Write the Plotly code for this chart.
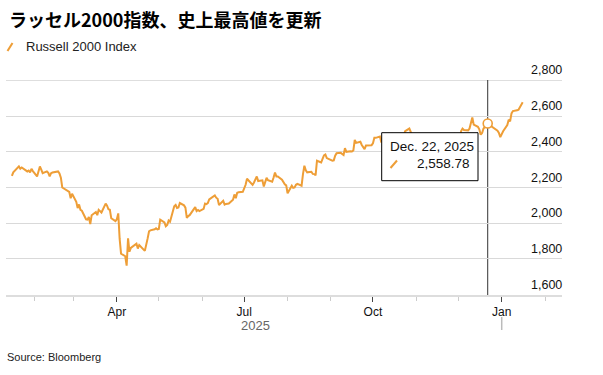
import plotly.graph_objects as go

# ---------------- data ----------------
dates = [
    # Jan 2025
    "2025-01-16", "2025-01-17", "2025-01-21", "2025-01-22", "2025-01-23", "2025-01-24",
    "2025-01-27", "2025-01-28", "2025-01-29", "2025-01-30", "2025-01-31",
    # Feb
    "2025-02-03", "2025-02-04", "2025-02-05", "2025-02-06", "2025-02-07", "2025-02-10",
    "2025-02-11", "2025-02-12", "2025-02-13", "2025-02-14", "2025-02-18", "2025-02-19",
    "2025-02-20", "2025-02-21", "2025-02-24", "2025-02-25", "2025-02-26", "2025-02-27",
    "2025-02-28",
    # Mar
    "2025-03-03", "2025-03-04", "2025-03-05", "2025-03-06", "2025-03-07", "2025-03-10",
    "2025-03-11", "2025-03-12", "2025-03-13", "2025-03-14", "2025-03-17", "2025-03-18",
    "2025-03-19", "2025-03-20", "2025-03-21", "2025-03-24", "2025-03-25", "2025-03-26",
    "2025-03-27", "2025-03-28", "2025-03-31",
    # Apr
    "2025-04-01", "2025-04-02", "2025-04-03", "2025-04-04", "2025-04-07", "2025-04-08",
    "2025-04-09", "2025-04-10", "2025-04-11", "2025-04-14", "2025-04-15", "2025-04-16",
    "2025-04-17", "2025-04-21", "2025-04-22", "2025-04-23", "2025-04-24", "2025-04-25",
    "2025-04-28", "2025-04-29", "2025-04-30",
    # May
    "2025-05-01", "2025-05-02", "2025-05-05", "2025-05-06", "2025-05-07", "2025-05-08",
    "2025-05-09", "2025-05-12", "2025-05-13", "2025-05-14", "2025-05-15", "2025-05-16",
    "2025-05-19", "2025-05-20", "2025-05-21", "2025-05-22", "2025-05-23", "2025-05-27",
    "2025-05-28", "2025-05-29", "2025-05-30",
    # Jun
    "2025-06-02", "2025-06-03", "2025-06-04", "2025-06-05", "2025-06-06", "2025-06-09",
    "2025-06-10", "2025-06-11", "2025-06-12", "2025-06-13", "2025-06-16", "2025-06-17",
    "2025-06-18", "2025-06-20", "2025-06-23", "2025-06-24", "2025-06-25", "2025-06-26",
    "2025-06-27", "2025-06-30",
    # Jul
    "2025-07-01", "2025-07-02", "2025-07-03", "2025-07-07", "2025-07-08", "2025-07-09",
    "2025-07-10", "2025-07-11", "2025-07-14", "2025-07-15", "2025-07-16", "2025-07-17",
    "2025-07-18", "2025-07-21", "2025-07-22", "2025-07-23", "2025-07-24", "2025-07-25",
    "2025-07-28", "2025-07-29", "2025-07-30", "2025-07-31",
    # Aug
    "2025-08-01", "2025-08-04", "2025-08-05", "2025-08-06", "2025-08-07", "2025-08-08",
    "2025-08-11", "2025-08-12", "2025-08-13", "2025-08-14", "2025-08-15", "2025-08-18",
    "2025-08-19", "2025-08-20", "2025-08-21", "2025-08-22", "2025-08-25", "2025-08-26",
    "2025-08-27", "2025-08-28", "2025-08-29",
    # Sep
    "2025-09-02", "2025-09-03", "2025-09-04", "2025-09-05", "2025-09-08", "2025-09-09",
    "2025-09-10", "2025-09-11", "2025-09-12", "2025-09-15", "2025-09-16", "2025-09-17",
    "2025-09-18", "2025-09-19", "2025-09-22", "2025-09-23", "2025-09-24", "2025-09-25",
    "2025-09-26", "2025-09-29", "2025-09-30",
    # Oct
    "2025-10-01", "2025-10-02", "2025-10-03", "2025-10-06", "2025-10-07", "2025-10-08",
    "2025-10-09", "2025-10-10", "2025-10-13", "2025-10-14", "2025-10-15", "2025-10-16",
    "2025-10-17", "2025-10-20", "2025-10-21", "2025-10-22", "2025-10-23", "2025-10-24",
    "2025-10-27", "2025-10-28", "2025-10-29", "2025-10-30", "2025-10-31",
    # Nov
    "2025-11-03", "2025-11-04", "2025-11-05", "2025-11-06", "2025-11-07", "2025-11-10",
    "2025-11-11", "2025-11-12", "2025-11-13", "2025-11-14", "2025-11-17", "2025-11-18",
    "2025-11-19", "2025-11-20", "2025-11-21", "2025-11-24", "2025-11-25", "2025-11-26",
    "2025-11-28",
    # Dec
    "2025-12-01", "2025-12-02", "2025-12-03", "2025-12-04", "2025-12-05", "2025-12-08",
    "2025-12-09", "2025-12-10", "2025-12-11", "2025-12-12", "2025-12-15", "2025-12-16",
    "2025-12-17", "2025-12-18", "2025-12-19", "2025-12-22", "2025-12-23", "2025-12-24",
    "2025-12-26", "2025-12-29", "2025-12-30", "2025-12-31",
    # Jan 2026
    "2026-01-02", "2026-01-05", "2026-01-06", "2026-01-07", "2026-01-08", "2026-01-09",
    "2026-01-12", "2026-01-13", "2026-01-14", "2026-01-15", "2026-01-16",
]

close = [
    # Jan 2025
    2265, 2285, 2318, 2305, 2312, 2307, 2290, 2295, 2285, 2305, 2292,
    # Feb
    2262, 2285, 2318, 2300, 2280, 2290, 2282, 2262, 2280, 2284, 2290, 2279,
    2255, 2200, 2185, 2178, 2175, 2140, 2165,
    # Mar
    2120, 2085, 2105, 2075, 2070, 2022, 2020, 2035, 1995, 2045, 2063, 2045,
    2075, 2065, 2060, 2110, 2098, 2078, 2075, 2028, 2012,
    # Apr
    2022, 2055, 1912, 1830, 1815, 1762, 1915, 1840, 1862, 1882, 1885, 1858,
    1878, 1845, 1893, 1915, 1955, 1960, 1966, 1972, 1965,
    # May
    1968, 2020, 2005, 1983, 1990, 2015, 2008, 2095, 2102, 2085, 2088, 2113,
    2100, 2087, 2030, 2040, 2045, 2090, 2068, 2074, 2068,
    # Jun
    2080, 2110, 2107, 2112, 2133, 2147, 2156, 2143, 2137, 2102, 2125, 2104,
    2108, 2110, 2132, 2161, 2140, 2170, 2173, 2176,
    # Jul
    2195, 2215, 2249, 2215, 2228, 2241, 2262, 2236, 2240, 2206, 2236, 2254,
    2241, 2232, 2256, 2284, 2262, 2262, 2244, 2230, 2218, 2212,
    # Aug
    2168, 2210, 2198, 2200, 2215, 2220, 2210, 2275, 2322, 2296, 2285, 2288,
    2276, 2275, 2268, 2350, 2340, 2360, 2380, 2385, 2365,
    # Sep
    2350, 2352, 2378, 2392, 2394, 2388, 2382, 2420, 2400, 2403, 2402, 2408,
    2466, 2450, 2456, 2438, 2425, 2415, 2435, 2436, 2437,
    # Oct
    2448, 2478, 2478, 2485, 2452, 2482, 2470, 2395, 2468, 2483, 2505, 2452,
    2453, 2488, 2475, 2455, 2488, 2515, 2530, 2510, 2494, 2474, 2480,
    # Nov
    2468, 2416, 2448, 2402, 2432, 2452, 2458, 2450, 2384, 2392, 2346, 2346,
    2350, 2307, 2369, 2418, 2466, 2486, 2500,
    # Dec
    2468, 2468, 2516, 2530, 2522, 2520, 2530, 2562, 2592, 2552, 2540, 2526,
    2496, 2505, 2530, 2558.78, 2547, 2546, 2535, 2518, 2506, 2482,
    # Jan 2026
    2515, 2550, 2580, 2570, 2615, 2628, 2632, 2636, 2650, 2665, 2678,
]

title_text = "ラッセル2000指数、史上最高値を更新"
series_name = "Russell 2000 Index"
source_text = "Source: Bloomberg"

y_ticks = [1600, 1800, 2000, 2200, 2400, 2600, 2800]
y_tick_labels = ["1,600", "1,800", "2,000", "2,200", "2,400", "2,600", "2,800"]
y_range = [1598, 2802]

x_tick_dates = ["2025-04-01", "2025-07-01", "2025-10-01", "2026-01-01"]
x_tick_labels = ["Apr", "Jul", "Oct", "Jan"]
year_label = "2025"
year_label_date = "2025-07-09"
year_break_date = "2026-01-01"
x_range = ["2025-01-11 19:00", "2026-02-13 02:00"]

highlight_date = "2025-12-22"
highlight_value = 2558.78
highlight_label = "Dec. 22, 2025"

# ---------------- layout helpers ----------------
W, H = 603, 375
L, R, T, B = 6, 41, 80, 80
PW, PH = W - L - R, H - T - B


def px(x):
    return (x - L) / PW


def py(y):
    return (H - B - y) / PH


ORANGE = "#EE9E37"
GRID = "#d9d9d9"
FONT = "Liberation Sans, Arial, sans-serif"

fig = go.Figure()
fig.add_trace(go.Scatter(
    x=dates, y=close, mode="lines", name=series_name,
    line=dict(color=ORANGE, width=2), hoverinfo="skip", showlegend=False,
))
fig.add_trace(go.Scatter(
    x=[highlight_date], y=[highlight_value], mode="markers",
    marker=dict(size=9, color="white", line=dict(color=ORANGE, width=1.6)),
    hoverinfo="skip", showlegend=False,
))

shapes = [
    # top gridline (edge gridline is not drawn by the axis itself)
    dict(type="line", xref="paper", yref="y", x0=0, x1=1, y0=y_ticks[-1], y1=y_ticks[-1],
         line=dict(color=GRID, width=1), layer="below"),
    # crosshair
    dict(type="line", xref="x", yref="paper", x0=highlight_date, x1=highlight_date,
         y0=0, y1=1, line=dict(color="#333333", width=1), layer="between"),
    # year break tick
    dict(type="line", xref="x", yref="paper", x0=year_break_date, x1=year_break_date,
         y0=py(317), y1=py(330), line=dict(color="#bbbbbb", width=1.5)),
    # tooltip box
    dict(type="rect", xref="paper", yref="paper", x0=px(381.7), x1=px(478),
         y0=py(180.7), y1=py(132.7), fillcolor="white",
         line=dict(color="#000000", width=1), layer="above"),
    # tooltip slash icon
    dict(type="line", xref="paper", yref="paper", x0=px(390.5), x1=px(397),
         y0=py(168), y1=py(160.5), line=dict(color=ORANGE, width=2)),
    # legend slash icon
    dict(type="line", xref="paper", yref="paper", x0=px(7.5), x1=px(12.5),
         y0=py(51), y1=py(43), line=dict(color=ORANGE, width=2)),
]

annotations = [
    dict(text="<b>" + title_text + "</b>", xref="paper", yref="paper",
         x=px(7), y=py(19), xanchor="left", yanchor="middle", showarrow=False,
         font=dict(family="Noto Sans CJK JP", size=18, color="#000000")),
    dict(text=series_name, xref="paper", yref="paper", x=px(24), y=py(46.5),
         xanchor="left", yanchor="middle", showarrow=False,
         font=dict(family=FONT, size=13, color="#222222")),
    dict(text=highlight_label, xref="paper", yref="paper", x=px(388), y=py(146.7),
         xanchor="left", yanchor="middle", showarrow=False,
         font=dict(family=FONT, size=13.5, color="#111111")),
    dict(text=f"{highlight_value:,.2f}", xref="paper", yref="paper", x=px(472),
         y=py(163.5), xanchor="right", yanchor="middle", showarrow=False,
         font=dict(family=FONT, size=13.5, color="#111111")),
    dict(text=year_label, xref="x", yref="paper", x=year_label_date, y=py(325.5),
         xanchor="center", yanchor="middle", showarrow=False,
         font=dict(family=FONT, size=13, color="#666666")),
    dict(text=source_text, xref="paper", yref="paper", x=px(5), y=py(357),
         xanchor="left", yanchor="middle", showarrow=False,
         font=dict(family=FONT, size=11, color="#222222")),
]

# y-axis tick labels sit just above their gridlines, right-aligned at the plot edge
for v, lab in zip(y_ticks, y_tick_labels):
    annotations.append(dict(
        text=lab, xref="paper", yref="y", x=px(564), y=v, yshift=10,
        xanchor="right", yanchor="middle", showarrow=False,
        font=dict(family=FONT, size=12.5, color="#111111"),
    ))

fig.update_layout(
    width=W, height=H,
    margin=dict(l=L, r=R, t=T, b=B, pad=0),
    paper_bgcolor="white", plot_bgcolor="white",
    hovermode=False, showlegend=False,
    shapes=shapes, annotations=annotations,
    font=dict(family=FONT, color="#111111"),
)

fig.update_xaxes(
    type="date", range=x_range,
    tickmode="array", tickvals=x_tick_dates, ticktext=x_tick_labels,
    ticks="outside", ticklen=5, tickwidth=1, tickcolor="#444444",
    tickfont=dict(family=FONT, size=12, color="#111111"),
    showgrid=False, zeroline=False,
    showline=True, linecolor="#dddddd", linewidth=2,
    minor=dict(ticks="outside", ticklen=4, tickwidth=1, tickcolor="#cccccc",
               dtick="M1", tick0="2025-01-01", showgrid=False),
)

fig.update_yaxes(
    side="right", range=y_range,
    tickmode="array", tickvals=y_ticks, showticklabels=False, ticks="",
    showgrid=True, gridcolor=GRID, gridwidth=1, zeroline=False,
    showline=False,
)

fig.write_html("out.html")
